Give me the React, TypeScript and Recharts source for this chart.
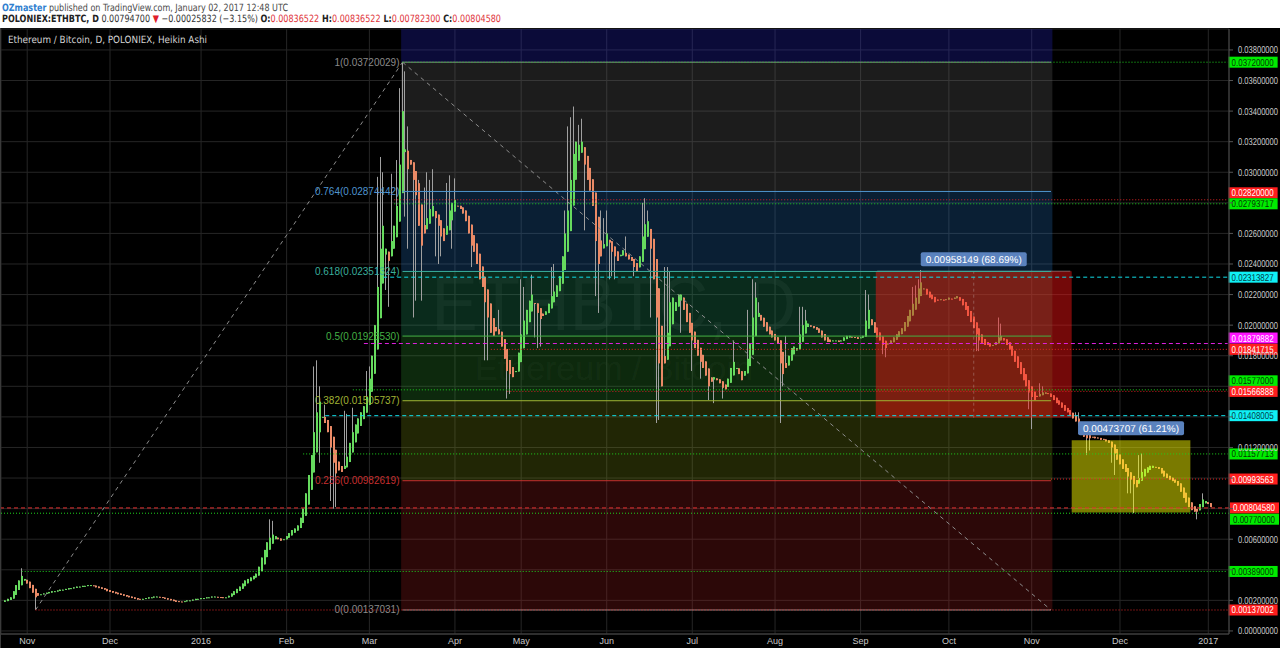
import { useLayoutEffect, useRef, useState } from "react";
import {
  ComposedChart,
  Bar,
  XAxis,
  YAxis,
  CartesianGrid,
  ReferenceLine,
  ReferenceArea,
} from "recharts";

// ETH/BTC daily Heikin Ashi candles (POLONIEX), prices in mBTC (1/1000 BTC)
const haClose = [
  2.0, 2.1, 2.2, 2.6, 3.0, 3.3, 3.6, 3.4, 3.1, 2.8,
  2.5, 2.2, 2.3, 2.4, 2.45, 2.5, 2.55, 2.6, 2.6, 2.65,
  2.7, 2.7, 2.75, 2.8, 2.8, 2.85, 2.9, 2.9, 2.95, 2.95,
  3.0, 3.0, 2.95, 2.85, 2.8, 2.75, 2.7, 2.6, 2.55, 2.5,
  2.45, 2.4, 2.35, 2.3, 2.25, 2.2, 2.15, 2.1, 2.05, 2.05,
  2.1, 2.15, 2.2, 2.2, 2.25, 2.25, 2.2, 2.15, 2.1, 2.05,
  2.0, 1.95, 1.9, 1.9, 1.9, 1.95, 2.0, 2.0, 2.05, 2.1,
  2.1, 2.15, 2.15, 2.2, 2.2, 2.25, 2.25, 2.2, 2.2, 2.15,
  2.2, 2.3, 2.45, 2.6, 2.75, 2.9, 3.1, 3.3, 3.4, 3.5,
  3.6, 3.75, 4.2, 4.8, 5.3, 5.8, 6.1, 6.3, 6.2, 6.0,
  5.9, 6.0, 6.2, 6.4, 6.6, 6.7, 6.9, 7.4, 8.0, 9.0,
  10.2, 11.5, 13.0, 14.3, 15.0, 14.0, 13.6, 13.0, 12.0, 11.0,
  10.3, 10.5, 10.4, 10.8, 11.4, 12.3, 13.0, 13.5, 13.9, 14.3,
  14.7, 15.3, 16.5, 18.0, 20.0, 22.5, 25.0, 26.5, 25.0, 24.2,
  25.5, 26.5, 27.8, 30.5, 34.0, 31.5, 30.2, 30.5, 29.5, 28.5,
  26.5, 25.2, 26.0, 27.0, 27.6, 27.8, 27.0, 26.5, 25.8, 25.5,
  26.5, 27.5, 28.0, 28.2, 27.8, 27.6, 27.3, 26.8, 26.0, 25.2,
  24.8, 24.0, 23.0, 22.5, 21.5, 20.5, 19.5, 19.3, 19.6, 19.4,
  18.6, 17.8, 17.0, 16.8, 16.6, 17.0, 18.2, 19.4, 20.3, 21.0,
  21.6, 22.0, 21.4, 20.8, 20.4, 20.6, 20.9, 21.4, 21.9, 22.2,
  22.6, 23.2, 24.5, 26.0, 27.5, 29.5, 31.2, 32.0, 31.8, 32.0,
  30.5, 29.5, 28.8, 27.8, 25.5, 24.0, 24.5, 25.3, 26.0, 25.4,
  24.8, 24.5, 24.2, 24.6, 24.9, 24.5, 24.3, 24.2, 23.8, 23.5,
  24.5, 25.8, 26.6, 26.8, 25.0, 23.0, 20.5, 17.5, 16.0, 17.5,
  19.5, 21.5, 21.8, 21.5, 22.0, 22.0, 21.0, 20.2, 19.5, 19.0,
  18.5, 18.0, 17.6, 17.2, 16.7, 16.0, 16.3, 16.6, 16.4, 16.2,
  15.9, 15.8, 16.5, 17.2, 17.6, 17.2, 16.8, 16.4, 17.0, 17.8,
  18.8, 20.5, 21.8, 20.8, 20.3, 19.9, 19.6, 19.4, 19.2, 19.0,
  18.8, 17.5, 16.8, 17.2, 18.0, 18.5, 18.6, 18.5, 19.4, 20.0,
  20.3, 20.1, 19.9, 19.8, 19.7, 19.5, 19.2, 19.0, 18.9, 18.9,
  19.0, 19.0, 18.9, 19.0, 19.2, 19.3, 19.3, 19.2, 19.2, 19.1,
  19.2, 19.3, 20.3, 21.0, 20.0, 19.5, 19.2, 19.0, 18.7, 18.5,
  18.8, 19.0, 19.2, 19.4, 19.6, 19.8, 20.2, 20.6, 21.0, 21.4,
  21.8, 22.4, 22.8, 22.4, 22.0, 21.8, 21.7, 21.5, 21.6, 21.7,
  21.6, 21.7, 21.8, 21.7, 21.8, 21.9, 21.6, 21.3, 21.0, 20.6,
  20.2, 19.8, 19.4, 19.0, 18.8, 18.7, 18.7, 18.6, 18.7, 18.9,
  19.2, 19.3, 19.0, 18.7, 18.4, 18.0, 17.6, 17.2, 16.8, 16.4,
  16.0, 15.6, 15.3, 15.1, 15.3, 15.5, 15.6, 15.6, 15.5, 15.3,
  15.1, 14.9, 14.8, 14.6, 14.4, 14.3, 14.1, 13.9, 13.7, 13.4,
  13.0, 12.7, 12.6, 12.6, 12.7, 12.6, 12.6, 12.5, 12.5, 12.4,
  12.3, 12.0, 11.6, 11.2, 10.9, 10.6, 10.4, 10.1, 9.9, 9.6,
  9.4, 10.0, 10.4, 10.6, 10.7, 10.8, 10.8, 10.7, 10.6, 10.3,
  10.1, 10.0, 9.9, 9.8, 9.7, 9.5, 9.1, 8.7, 8.4, 8.1,
  7.9, 7.8, 7.8, 8.3, 8.6, 8.5, 8.3, 8.1,
];
const firstOpen = 1.9;

// notable wicks: [candle index, price]
const wickHighs: [number, number][] = [
  [7, 4.1], [97, 7.3], [98, 7.2], [113, 17.3], [114, 17.7], [115, 16.0], [117, 14.8],
  [124, 14.4], [125, 14.2], [127, 14.6], [132, 17.0], [133, 17.3], [136, 29.7], [137, 31.0],
  [138, 30.0], [141, 29.9], [143, 30.8], [144, 35.5], [145, 37.2], [146, 36.6], [147, 33.0],
  [151, 29.5], [153, 29.0], [154, 30.0], [155, 29.5], [156, 30.2], [161, 29.3], [162, 29.8],
  [164, 29.6], [180, 21.0], [188, 23.0], [189, 22.5], [192, 23.3], [199, 23.8], [200, 24.0],
  [204, 27.5], [205, 33.0], [206, 33.6], [207, 34.3], [209, 33.1], [210, 33.5], [217, 27.5],
  [218, 27.0], [219, 27.5], [226, 25.8], [232, 28.0], [233, 28.3], [234, 27.5], [238, 22.0],
  [240, 23.8], [241, 23.8], [242, 23.5], [251, 19.5], [265, 19.0], [270, 21.0], [272, 23.0],
  [273, 22.8], [274, 21.5], [284, 19.3], [289, 21.2], [290, 21.2], [291, 21.0], [313, 22.3],
  [314, 22.0], [330, 22.5], [331, 22.6], [332, 23.0], [333, 23.6], [361, 20.5], [362, 20.1],
  [376, 16.2], [377, 16.0], [389, 14.3], [390, 14.3], [412, 11.5], [413, 11.6], [435, 9.0],
];
const wickLows: [number, number][] = [
  [12, 1.37], [115, 11.0], [119, 8.5], [120, 8.0], [121, 8.1], [139, 22.3], [140, 21.2],
  [146, 27.1], [147, 25.0], [149, 20.5], [150, 21.6], [152, 21.6], [157, 24.5], [158, 24.0],
  [159, 24.5], [163, 25.0], [170, 23.8], [175, 17.7], [176, 17.7], [183, 15.2], [184, 15.5],
  [193, 19.2], [194, 18.5], [195, 18.6], [211, 26.2], [215, 21.9], [216, 20.8], [220, 23.0],
  [221, 23.2], [222, 23.0], [229, 23.2], [235, 20.5], [237, 13.6], [238, 13.8], [242, 19.0],
  [246, 19.5], [250, 17.0], [253, 16.5], [256, 15.1], [258, 14.9], [261, 15.2], [282, 13.6],
  [283, 16.0], [319, 18.1], [320, 17.9], [353, 18.3], [354, 18.3], [372, 14.5], [373, 13.2],
  [393, 11.5], [394, 11.8], [402, 11.0], [403, 10.2], [408, 9.0], [409, 9.0], [410, 7.7],
  [433, 7.3],
];

const monthTicks = [9, 39, 72, 103, 133, 164, 188, 219, 250, 280, 311, 343, 373, 405, 437];
const monthLabels = ["Nov", "Dec", "2016", "Feb", "Mar", "Apr", "May", "Jun", "Jul", "Aug", "Sep", "Oct", "Nov", "Dec", "2017"];
const priceTicks = [0, 2, 4, 6, 8, 10, 12, 14, 16, 18, 20, 22, 24, 26, 28, 30, 32, 34, 36, 38];
// tick labels that sit under a price tag in the picture
const coveredTicks = [4, 8, 10, 14, 16, 28];

// fibonacci retracement tool
const fibRatios = ["1", "0.764", "0.618", "0.5", "0.382", "0.236", "0"];
const fibLevels = [37.20029, 28.74442, 23.51324, 19.2853, 15.05737, 9.82619, 1.37031];
const fibAnchorLow = 12;
const fibAnchorHigh = 145;
const fibEnd = 380;

// horizontal price levels
const levelValues = [37.2, 28.2, 27.93717, 23.13827, 18.79882, 18.41715, 15.77, 15.66888, 14.08005, 11.57713, 9.93563, 8.0458, 7.7, 3.89, 1.37002];
const levelFrom = [145, 142, 142, 138, 131, 177, 127, 183, 117, 109, 380, -1, -1, 7, 12];

// price range boxes
const boxFrom = [317, 388];
const boxTo = [387, 430];
const boxLow = [13.9489, 7.7391];
const boxHigh = [23.5304, 12.4762];
const boxText = ["0.00958149 (68.69%)", "0.00473707 (61.21%)"];

const LAST = 444;
const Y_MIN = -0.2;
const Y_MAX = 39.37;
const AXIS_FONT = "'Liberation Sans', Arial, sans-serif";
const UI_FONT = "'DejaVu Sans', Verdana, sans-serif";

const zoneFills = [
  "rgba(40,40,210,0.27)",
  "rgba(110,110,110,0.25)",
  "rgba(40,120,200,0.26)",
  "rgba(40,170,110,0.25)",
  "rgba(50,165,50,0.25)",
  "rgba(140,160,20,0.24)",
  "rgba(170,30,30,0.26)",
];
const fibColors = ["#8a8a8a", "#4f95cf", "#3aae9c", "#45b045", "#a0b434", "#c62f2f", "#8a8a8a"];

const levelStyles = [
  "green", "red", "green", "cyan", "magenta", "red", "green", "red", "cyan", "green", "red", "redDash", "green", "green", "red",
];
const tagShift = [0, -7, 0, 0, -5.5, 0, -9, 0, 0, 0, 0, 0, 6, 0, 0];
const kinds: Record<string, { stroke: string; dash: string; bg: string; fg: string }> = {
  green: { stroke: "#1ed41e", dash: "1 2", bg: "#00ec00", fg: "#053505" },
  red: { stroke: "#e02626", dash: "1 2", bg: "#ff1e1e", fg: "#ffffff" },
  redDash: { stroke: "#e23030", dash: "4 3", bg: "#ff1e1e", fg: "#ffffff" },
  cyan: { stroke: "#10dde8", dash: "4 3", bg: "#10f0f5", fg: "#043a44" },
  magenta: { stroke: "#e020e0", dash: "4 3", bg: "#ff14ff", fg: "#ffffff" },
};
const boxFills = ["rgba(255,20,20,0.45)", "rgba(255,255,0,0.48)"];

// Heikin Ashi: open is the midpoint of the previous candle body
const hiMap = new Map(wickHighs);
const loMap = new Map(wickLows);
const candles: any[] = [{ i: 0 }];
let open = firstOpen;
haClose.forEach((c, k) => {
  if (k > 0) open = (open + haClose[k - 1]) / 2;
  const i = k + 1;
  candles.push({
    i,
    o: open,
    c,
    hi: Math.max(open, c, hiMap.get(i) ?? -Infinity),
    lo: Math.min(open, c, loMap.get(i) ?? Infinity),
  });
});
for (let i = haClose.length + 1; i <= LAST; i++) candles.push({ i });

// text squeezed horizontally to a given width (the screenshot's fonts are narrow)
// measured once, at mount, so the scale never feeds back into the measurement
function FitText({ x, y, width, anchor = "start", children, ...rest }: any) {
  const ref = useRef<SVGTextElement>(null);
  const [s, setS] = useState(1);
  useLayoutEffect(() => {
    const el = ref.current;
    if (!el) return;
    const w = el.getComputedTextLength();
    if (w > 0) setS(width / w);
    // eslint-disable-next-line react-hooks/exhaustive-deps
  }, []);
  return (
    <g transform={`translate(${x},${y}) scale(${s},1)`}>
      <text ref={ref} x={0} y={0} textAnchor={anchor} textRendering="geometricPrecision" {...rest}>
        {children}
      </text>
    </g>
  );
}

const Candle = (props: any) => {
  const { x, y, width, height, payload } = props;
  if (!payload || payload.c == null) return null;
  const { o, c, hi, lo } = payload;
  const top = Math.min(y, y + height);
  const h = Math.abs(height);
  const span = hi - lo || 1;
  const yOf = (v: number) => top + ((hi - v) / span) * h;
  const bx = Math.round(x + width / 2 - 1);
  const by = yOf(Math.max(o, c));
  const bh = Math.max(1, yOf(Math.min(o, c)) - by);
  return (
    <g>
      <line x1={bx + 0.5} x2={bx + 0.5} y1={top} y2={top + h} stroke="#a0a0a0" strokeWidth={1} />
      <rect x={bx} y={by} width={2} height={bh} fill={c >= o ? "#66da5e" : "#ea8a66"} />
    </g>
  );
};

const YTick = (props: any) => {
  const { x, y, payload } = props;
  if (coveredTicks.includes(payload.value)) return null;
  return (
    <FitText x={x} y={y + 3.5} width={40} fill="#cccccc" fontSize={10} fontFamily={AXIS_FONT}>
      {(payload.value / 1000).toFixed(8)}
    </FitText>
  );
};

const XTick = (props: any) => {
  const { x, y, payload } = props;
  const k = monthTicks.indexOf(payload.value);
  return (
    <text x={x} y={y + 10} textAnchor="middle" fill="#c8c8c8" fontSize={9} fontFamily={AXIS_FONT}>
      {monthLabels[k]}
    </text>
  );
};

const fibLabel = (text: string, color: string) => (props: any) => {
  const vb = props.viewBox ?? { x: 0, y: 0 };
  return (
    <text x={vb.x - 3} y={vb.y + 3.5} textAnchor="end" fill={color} fontSize={10} fontFamily={AXIS_FONT}>
      {text}
    </text>
  );
};

const priceTag = (text: string, bg: string, fg: string, shift: number) => (props: any) => {
  const vb = props.viewBox ?? { x: 0, y: 0, width: 0 };
  const x = vb.x + vb.width + 1;
  const y = vb.y + shift;
  return (
    <g>
      <rect x={x} y={y - 5.5} width={49} height={11} fill={bg} />
      <FitText x={x + 3} y={y + 3.5} width={42} fill={fg} fontSize={10} fontFamily={AXIS_FONT}>
        {text}
      </FitText>
    </g>
  );
};

const boxLabel = (text: string) => (props: any) => {
  const vb = props.viewBox ?? { x: 0, y: 0, width: 0 };
  const cx = vb.x + vb.width / 2;
  return (
    <g>
      <rect x={cx - 53} y={vb.y - 19} width={106} height={14} rx={2} fill="#5a82be" />
      <FitText x={cx} y={vb.y - 8.5} width={96} anchor="middle" fill="#ffffff" fontSize={10} fontFamily={AXIS_FONT}>
        {text}
      </FitText>
    </g>
  );
};

function Header() {
  return (
    <svg width={1280} height={28} style={{ position: "absolute", left: 0, top: 0, background: "#ffffff" }}>
      <FitText x={2} y={11} width={286} fontSize={10} fontFamily={UI_FONT}>
        <tspan fill="#2f7fd0" fontWeight="bold">OZmaster</tspan>
        <tspan fill="#4a4a4a">{" published on TradingView.com, January 02, 2017 12:48 UTC"}</tspan>
      </FitText>
      <FitText x={2} y={22} width={499} fontSize={10} fontFamily={UI_FONT}>
        <tspan fill="#222" fontWeight="bold">POLONIEX:ETHBTC, D</tspan>
        <tspan fill="#333">{" 0.00794700 "}</tspan>
        <tspan fill="#e0202a">▼</tspan>
        <tspan fill="#333">{" −0.00025832 (−3.15%) "}</tspan>
        <tspan fill="#222" fontWeight="bold">O:</tspan>
        <tspan fill="#e0343a">0.00836522</tspan>
        <tspan fill="#222" fontWeight="bold">{" H:"}</tspan>
        <tspan fill="#e0343a">0.00836522</tspan>
        <tspan fill="#222" fontWeight="bold">{" L:"}</tspan>
        <tspan fill="#e0343a">0.00782300</tspan>
        <tspan fill="#222" fontWeight="bold">{" C:"}</tspan>
        <tspan fill="#e0343a">0.00804580</tspan>
      </FitText>
    </svg>
  );
}

export default function App() {
  return (
    <div style={{ position: "absolute", left: 0, top: 0, width: 1280, height: 648, background: "#000", overflow: "hidden" }}>
      <Header />

      {/* watermark */}
      <svg width={1228} height={606} style={{ position: "absolute", left: 0, top: 28 }}>
        <FitText x={614} y={302} width={365} anchor="middle" fill="rgba(255,255,255,0.05)" fontSize={76} fontFamily={AXIS_FONT}>
          ETHBTC, D
        </FitText>
        <text x={614} y={352} textAnchor="middle" fill="rgba(255,255,255,0.05)" fontSize={34} fontFamily={AXIS_FONT}>
          Ethereum / Bitcoin
        </text>
      </svg>

      <div style={{ position: "absolute", left: 0, top: 28, borderLeft: "1px solid #3a3a3a" }}>
        <ComposedChart width={1280} height={620} data={candles} margin={{ top: 1, right: 0, left: 0, bottom: 0 }} barCategoryGap={0}>
          <CartesianGrid stroke="#262626" strokeWidth={1} />
          <XAxis
            dataKey="i"
            type="category"
            ticks={monthTicks}
            interval={0}
            height={14}
            tickSize={0}
            tickMargin={0}
            tick={<XTick />}
            axisLine={{ stroke: "#4a4a4a" }}
          />
          <YAxis
            orientation="right"
            width={52}
            type="number"
            domain={[Y_MIN, Y_MAX]}
            allowDataOverflow
            ticks={priceTicks}
            interval={0}
            tickSize={4}
            tickMargin={5}
            tick={<YTick />}
            tickLine={{ stroke: "#555" }}
            axisLine={{ stroke: "#4a4a4a" }}
          />

          {/* fib retracement zones */}
          <ReferenceArea x1={fibAnchorHigh} x2={fibEnd} y1={fibLevels[0]} y2={Y_MAX} fill={zoneFills[0]} fillOpacity={1} stroke="none" />
          {fibLevels.slice(0, -1).map((lv, k) => (
            <ReferenceArea
              key={`z${k}`}
              x1={fibAnchorHigh}
              x2={fibEnd}
              y1={fibLevels[k + 1]}
              y2={lv}
              fill={zoneFills[k + 1]}
              fillOpacity={1}
              stroke="none"
            />
          ))}

          <Bar dataKey={(d: any) => (d.c == null ? null : [d.lo, d.hi])} shape={(p: any) => <Candle {...p} />} isAnimationActive={false} />

          {/* price range boxes */}
          {boxFrom.map((from, k) => (
            <ReferenceArea
              key={`b${k}`}
              x1={from}
              x2={boxTo[k]}
              y1={boxLow[k]}
              y2={boxHigh[k]}
              fill={boxFills[k]}
              fillOpacity={1}
              stroke="none"
              zIndex={350}
              label={boxLabel(boxText[k])}
            />
          ))}
          <ReferenceLine
            segment={[{ x: boxFrom[0], y: boxHigh[0] }, { x: boxTo[0], y: boxHigh[0] }]}
            stroke="rgba(210,210,210,0.45)"
          />
          <ReferenceLine
            segment={[{ x: Math.round((boxFrom[0] + boxTo[0]) / 2), y: boxLow[0] }, { x: Math.round((boxFrom[0] + boxTo[0]) / 2), y: boxHigh[0] }]}
            stroke="rgba(220,220,220,0.3)"
            strokeDasharray="3 3"
          />

          {/* fib trend line */}
          <ReferenceLine
            segment={[{ x: fibAnchorLow, y: fibLevels[6] }, { x: fibAnchorHigh, y: fibLevels[0] }]}
            stroke="#8c8c8c"
            strokeDasharray="4 4"
          />
          <ReferenceLine
            segment={[{ x: fibAnchorHigh, y: fibLevels[0] }, { x: fibEnd, y: fibLevels[6] }]}
            stroke="#8c8c8c"
            strokeDasharray="4 4"
          />

          {/* fib levels */}
          {fibLevels.map((lv, k) => (
            <ReferenceLine
              key={`f${k}`}
              segment={[{ x: fibAnchorHigh, y: lv }, { x: fibEnd, y: lv }]}
              stroke={fibColors[k]}
              strokeWidth={1}
              label={fibLabel(`${fibRatios[k]}(${(lv / 1000).toFixed(8)})`, fibColors[k])}
            />
          ))}

          {/* horizontal levels with price tags */}
          {levelValues.map((v, k) => {
            const s = kinds[levelStyles[k]];
            const label = priceTag((v / 1000).toFixed(8), s.bg, s.fg, tagShift[k]);
            return levelFrom[k] < 0 ? (
              <ReferenceLine key={`l${k}`} y={v} stroke={s.stroke} strokeDasharray={s.dash} label={label} />
            ) : (
              <ReferenceLine
                key={`l${k}`}
                segment={[{ x: levelFrom[k], y: v }, { x: LAST, y: v }]}
                stroke={s.stroke}
                strokeDasharray={s.dash}
                label={label}
              />
            );
          })}
        </ComposedChart>
      </div>

      <svg width={300} height={20} style={{ position: "absolute", left: 0, top: 30 }}>
        <FitText x={8} y={13} width={199} fill="#d4d4d4" fontSize={10} fontFamily={UI_FONT}>
          Ethereum / Bitcoin, D, POLONIEX, Heikin Ashi
        </FitText>
      </svg>
    </div>
  );
}
